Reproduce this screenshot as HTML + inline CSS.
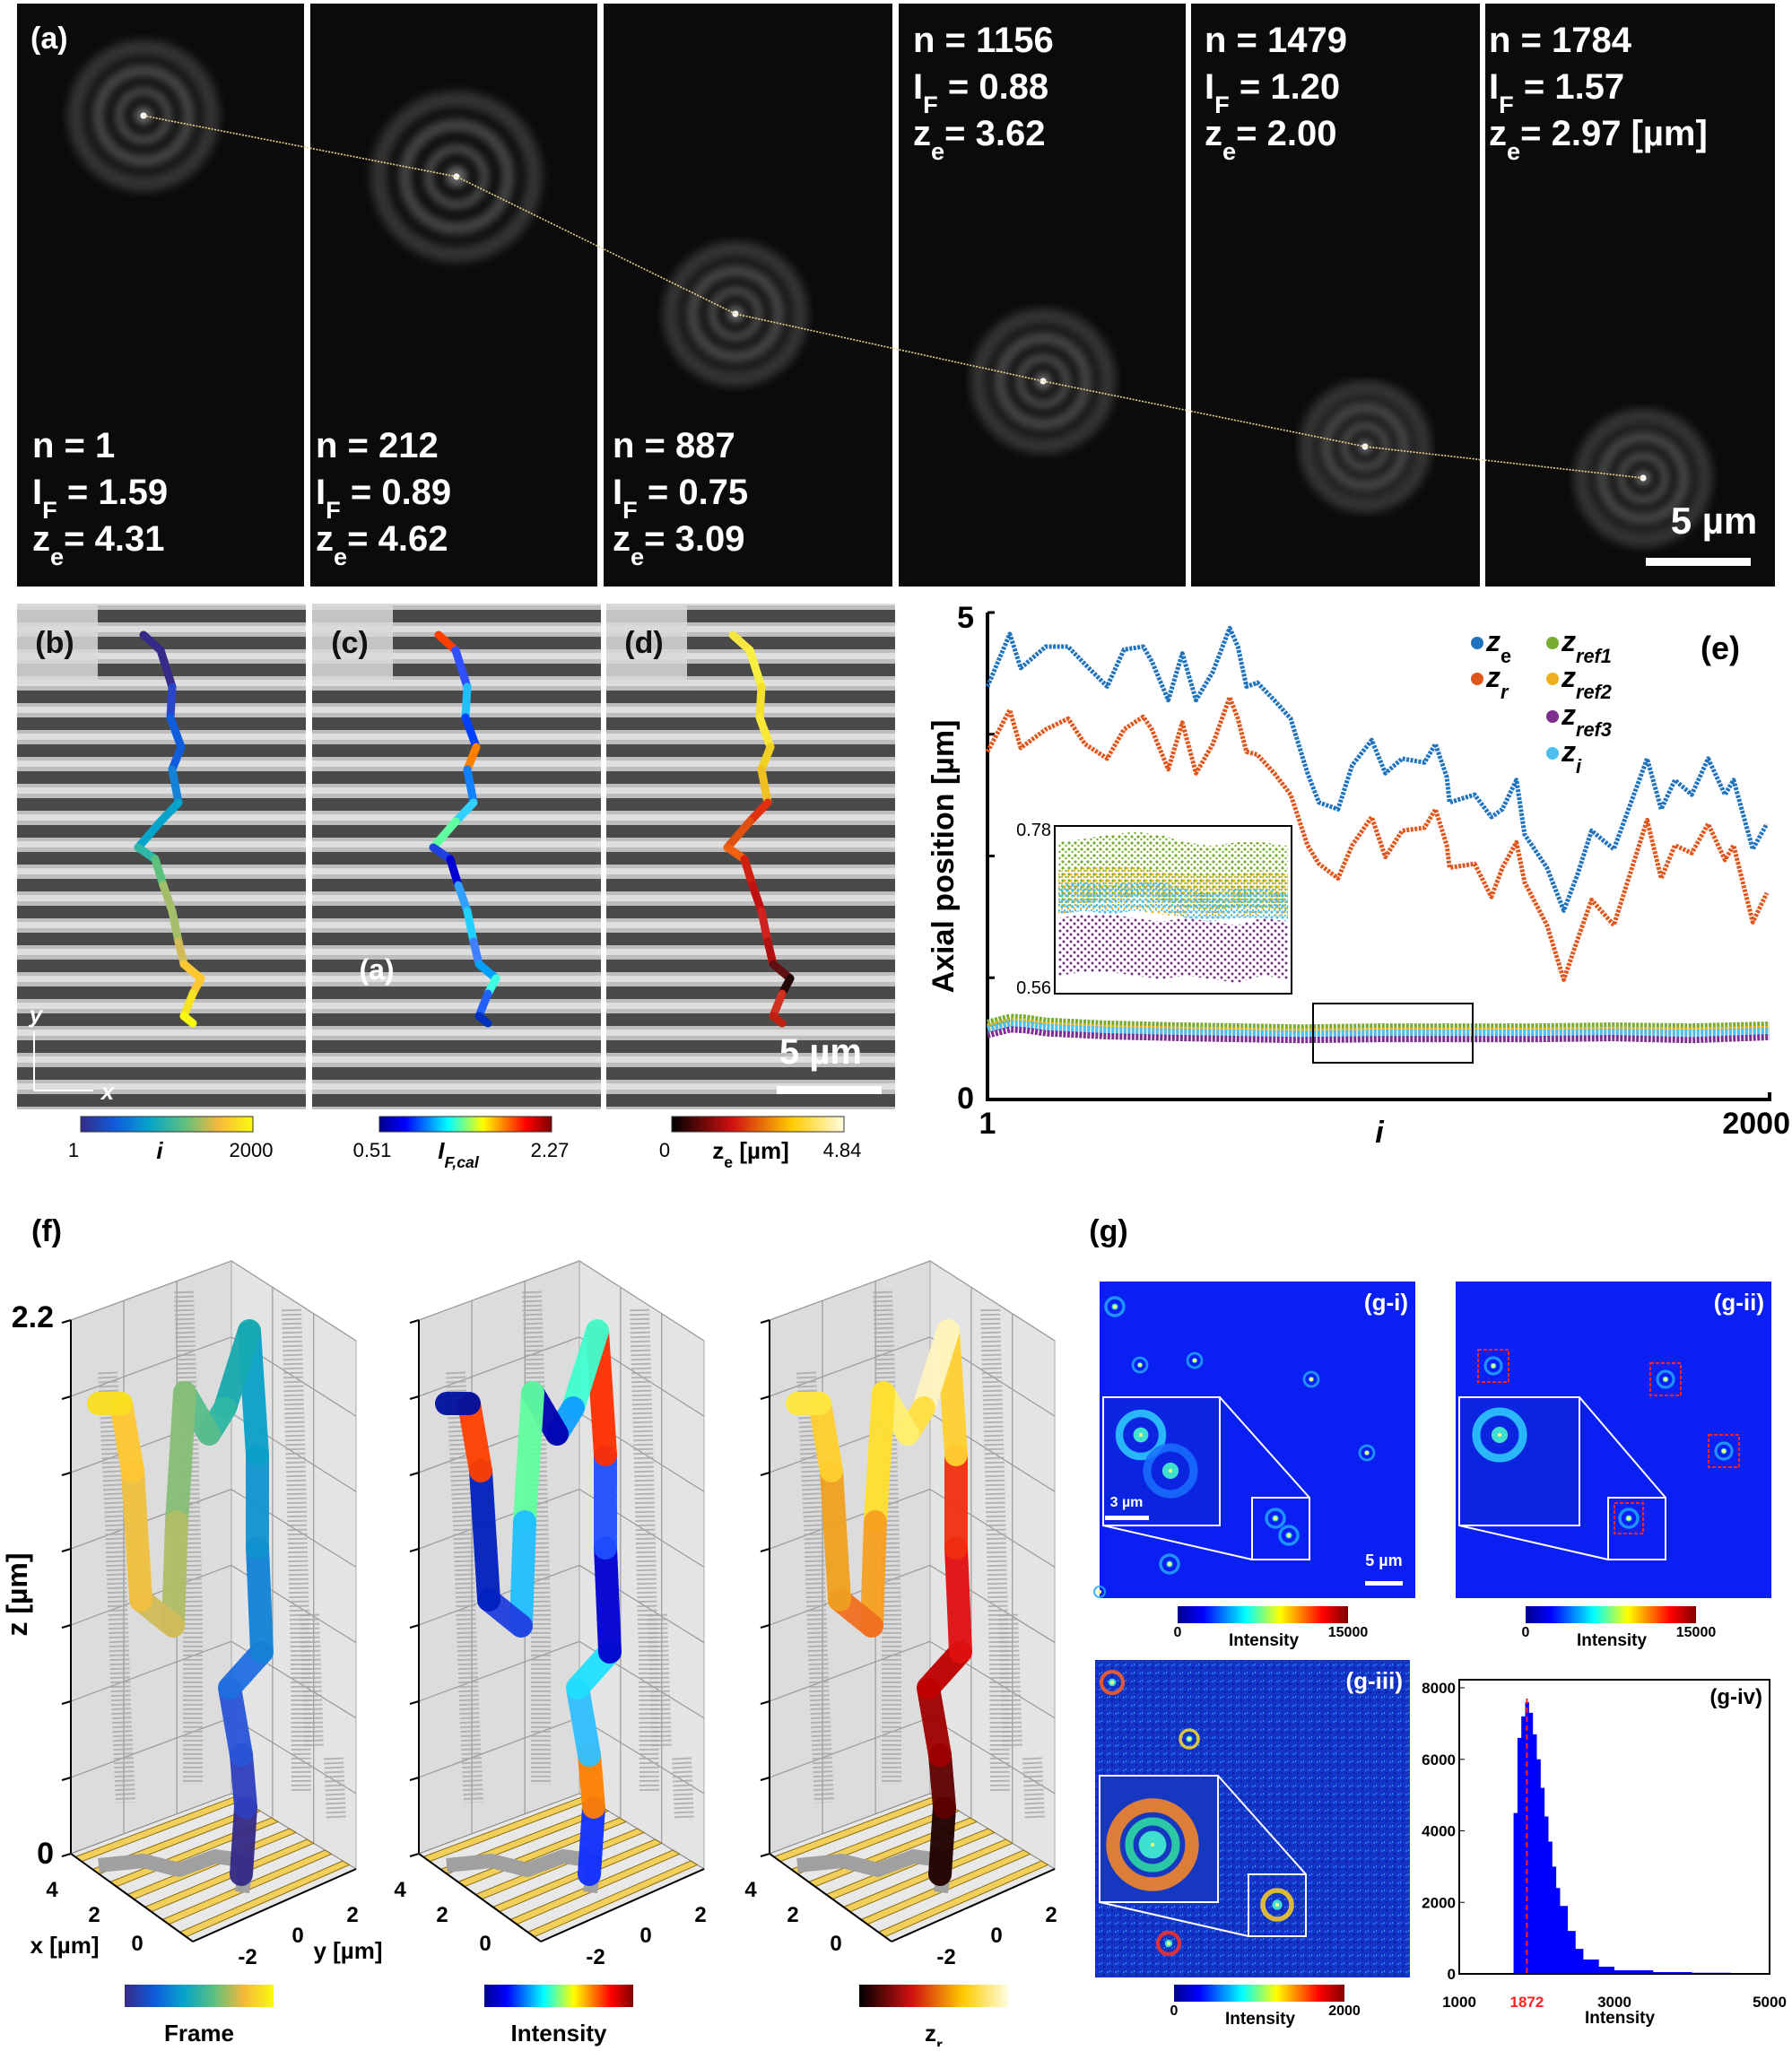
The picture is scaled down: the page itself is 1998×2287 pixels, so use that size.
<!DOCTYPE html>
<html><head><meta charset="utf-8"><style>
html,body{margin:0;padding:0;background:#fff}
svg text{font-family:"Liberation Sans",Arial,sans-serif}
</style></head><body>
<svg id="fig" xmlns="http://www.w3.org/2000/svg" width="1998" height="2282" viewBox="0 0 1998 2282">
<defs>
<filter id="blur3"><feGaussianBlur stdDeviation="5"/></filter>
<filter id="blur1"><feGaussianBlur stdDeviation="1.2"/></filter>
<pattern id="stripes" width="10" height="30" patternUnits="userSpaceOnUse">
<rect width="10" height="30" fill="#4a4a4a"/><rect y="4" width="10" height="16" fill="#bdbdbd"/><rect y="8" width="10" height="7" fill="#dedede"/>
</pattern>
<pattern id="dg" width="7" height="7" patternUnits="userSpaceOnUse"><circle cx="2" cy="2" r="1.6" fill="#77ac30"/><circle cx="5.5" cy="5" r="1.2" fill="#77ac30"/></pattern>
<pattern id="do" width="7" height="7" patternUnits="userSpaceOnUse"><circle cx="4" cy="2" r="1.5" fill="#edb120"/><circle cx="1" cy="5" r="1.2" fill="#edb120"/></pattern>
<pattern id="dc" width="6" height="6" patternUnits="userSpaceOnUse"><circle cx="2" cy="3" r="1.6" fill="#4dbeee"/><circle cx="5" cy="1" r="1.1" fill="#4dbeee"/></pattern>
<pattern id="dp" width="8" height="8" patternUnits="userSpaceOnUse"><circle cx="2" cy="2" r="1.5" fill="#7e2f8e"/><circle cx="6" cy="6" r="1.5" fill="#7e2f8e"/></pattern>
<pattern id="noise" width="9" height="9" patternUnits="userSpaceOnUse"><rect width="9" height="9" fill="#1434c8"/><rect x="1" y="2" width="2" height="2" fill="#2a6cf0"/><rect x="6" y="5" width="2" height="2" fill="#0a1e9a"/><rect x="4" y="1" width="1" height="2" fill="#2fa0e8"/></pattern>
<linearGradient id="parula" x1="0" x2="1"><stop offset="0" stop-color="#352a87"/><stop offset=".2" stop-color="#0f5cdd"/><stop offset=".4" stop-color="#06a4ca"/><stop offset=".6" stop-color="#5cc07f"/><stop offset=".8" stop-color="#f6b83a"/><stop offset="1" stop-color="#f9fb0e"/></linearGradient>
<linearGradient id="jet" x1="0" x2="1"><stop offset="0" stop-color="#00008f"/><stop offset=".15" stop-color="#0000ff"/><stop offset=".4" stop-color="#00ffff"/><stop offset=".6" stop-color="#ffff00"/><stop offset=".85" stop-color="#ff0000"/><stop offset="1" stop-color="#800000"/></linearGradient>
<linearGradient id="hot" x1="0" x2="1"><stop offset="0" stop-color="#000"/><stop offset=".35" stop-color="#d01010"/><stop offset=".7" stop-color="#ffcc00"/><stop offset="1" stop-color="#fffde0"/></linearGradient>
</defs>
<g id="panelA"></g>
<g id="panelBD"></g>
<g id="panelE"></g>
<g id="panelF"></g>
<g id="panelG"></g>
</svg>
<script>
// ---- Panel (e) data ----
const frameIdx = [1,58,86,150,207,250,307,350,399,421,463,499,534,577,620,641,663,691,734,776,819,848,897,933,983,1018,1061,1118,1146,1175,1182,1246,1289,1317,1353,1374,1431,1474,1509,1545,1602,1687,1723,1758,1801,1843,1886,1908,1957,1993];
const zeVals = [4.24,4.78,4.43,4.65,4.65,4.47,4.24,4.62,4.65,4.50,4.10,4.58,4.10,4.39,4.84,4.65,4.24,4.28,4.10,3.91,3.35,3.05,2.98,3.43,3.69,3.35,3.50,3.46,3.65,3.31,3.05,3.13,2.90,2.98,3.28,2.72,2.38,1.94,2.31,2.76,2.57,3.50,2.98,3.28,3.13,3.50,3.13,3.28,2.57,2.83];
const zrVals = [3.57,4.00,3.61,3.80,3.91,3.65,3.50,3.80,3.93,3.80,3.39,3.87,3.35,3.65,4.13,3.91,3.57,3.54,3.35,3.13,2.61,2.42,2.27,2.61,2.90,2.49,2.76,2.79,2.98,2.61,2.38,2.42,2.08,2.38,2.64,2.23,1.79,1.23,1.64,2.05,1.79,2.87,2.27,2.61,2.53,2.83,2.46,2.61,1.82,2.12];
const refIdx = [1,60,100,150,300,500,800,1000,1200,1400,1600,1800,2000];
const zref1Vals = [0.78,0.84,0.83,0.80,0.77,0.75,0.73,0.74,0.74,0.74,0.75,0.74,0.76];
const zref2Vals = [0.74,0.80,0.79,0.76,0.73,0.71,0.69,0.70,0.70,0.70,0.71,0.70,0.72];
const ziVals   = [0.72,0.78,0.77,0.74,0.71,0.69,0.67,0.68,0.68,0.68,0.69,0.68,0.70];
const zref3Vals = [0.66,0.72,0.71,0.68,0.65,0.63,0.61,0.62,0.62,0.62,0.63,0.61,0.64];
const insetIdx = [0,1,2,3,4,5,6,7,8,9];
const insetRef1 = [0.72,0.725,0.73,0.735,0.73,0.72,0.715,0.72,0.72,0.715];
const insetRef2 = [0.695,0.70,0.70,0.70,0.695,0.69,0.69,0.69,0.695,0.69];
const insetZi = [0.685,0.69,0.685,0.69,0.69,0.68,0.675,0.68,0.68,0.675];
const insetRef3 = [0.62,0.625,0.625,0.62,0.615,0.62,0.615,0.61,0.62,0.615];
// ---- Panel (g-iv) histogram data ----
const histBins = [1650,1700,1750,1800,1850,1900,1950,2000,2050,2100,2150,2200,2250,2300,2400,2500,2600,2800,3000,3500,4000,4500];
const histCounts = [0,4500,6600,7200,7600,7300,6700,6000,5200,4400,3700,3000,2400,1900,1200,700,400,200,100,50,30,20];
const histXTicks = [1000,3000,5000];
const histYTicks = [0,2000,4000,6000,8000];

const NS="http://www.w3.org/2000/svg";
function mk(parent,tag,attrs,txt){const e=document.createElementNS(NS,tag);for(const k in attrs)e.setAttribute(k,attrs[k]);if(txt!==undefined)e.textContent=txt;parent.appendChild(e);return e;}
function txt(parent,x,y,parts,size,weight,anchor,fill){
  const t=mk(parent,'text',{x:x,y:y,'font-size':size,'font-weight':weight||'bold','text-anchor':anchor||'start',fill:fill||'#000'});
  parts.forEach(p=>{ if(typeof p==='string'){mk(t,'tspan',{},p);} else {const s=mk(t,'tspan',{'baseline-shift':p.sup?'super':'sub','font-size':size*0.68,'font-style':p.it?'italic':'normal'},p.t);} });
  return t;
}

// ================= Panel A =================
const A=document.getElementById('panelA');
const aPanels=[[19,339],[346,666],[673,995],[1002,1322],[1328,1650],[1656,1979]];
const psf=[[160,129],[509,197],[820,350],[1163,425],[1522,498],[1832,533]];
const psfScale=[1.05,1.2,1.0,1.0,0.9,0.95];
mk(A,'rect',{x:0,y:0,width:1998,height:658,fill:'#fff'});
aPanels.forEach((p,i)=>{
  const r=mk(A,'rect',{x:p[0],y:4,width:p[1]-p[0],height:650,fill:'#0b0b0b'});
  
  
});
psf.forEach((c,i)=>{
  const g=mk(A,'g',{filter:'url(#blur3)'});
  
  
  const s=psfScale[i];
  mk(g,'circle',{cx:c[0],cy:c[1],r:72*s,fill:'none',stroke:'#666',"stroke-width":18,opacity:.45});
  mk(g,'circle',{cx:c[0],cy:c[1],r:48*s,fill:'none',stroke:'#777',"stroke-width":14,opacity:.55});
  mk(g,'circle',{cx:c[0],cy:c[1],r:26*s,fill:'none',stroke:'#888',"stroke-width":10,opacity:.55});
  mk(g,'circle',{cx:c[0],cy:c[1],r:10*s,fill:'#aaa',opacity:.6});
  mk(A,'circle',{cx:c[0],cy:c[1],r:3.5,fill:'#fff'});
});
const traj=mk(A,'polyline',{points:psf.map(p=>p.join(',')).join(' '),fill:'none',stroke:'#e8d28a',"stroke-width":1.6,"stroke-dasharray":"2 1.5"});


const lowTxt=[["1","1.59","4.31"],["212","0.89","4.62"],["887","0.75","3.09"]];
const upTxt=[["1156","0.88","3.62"],["1479","1.20","2.00"],["1784","1.57","2.97 [µm]"]];
const tX=[36,352,683,1018,1343,1660];
lowTxt.forEach((v,i)=>{
  const g=mk(A,'g',{});
  
  
  txt(g,tX[i],510,['n = '+v[0]],40,'bold','start','#fff');
  txt(g,tX[i],562,['I',{t:'F'},' = '+v[1]],40,'bold','start','#fff');
  txt(g,tX[i],614,['z',{t:'e'},'= '+v[2]],40,'bold','start','#fff');
});
upTxt.forEach((v,i)=>{
  const g=mk(A,'g',{});
  
  
  txt(g,tX[i+3],58,['n = '+v[0]],40,'bold','start','#fff');
  txt(g,tX[i+3],110,['I',{t:'F'},' = '+v[1]],40,'bold','start','#fff');
  txt(g,tX[i+3],162,['z',{t:'e'},'= '+v[2]],40,'bold','start','#fff');
});
const la=txt(A,34,54,['(a)'],34,'bold','start','#fff');

const sbt=txt(A,1911,595,['5 µm'],42,'bold','middle','#fff');

const sb=mk(A,'rect',{x:1835,y:622,width:117,height:9,fill:'#fff'});


// ================= Panels B-D =================
const B=document.getElementById('panelBD');
const bdX=[19,348,676];
const trk=[[160,708],[179,725],[192,766],[190,800],[202,833],[192,858],[199,895],[179,916],[154,945],[173,958],[182,987],[192,1016],[199,1050],[205,1075],[224,1091],[215,1108],[205,1133],[215,1141]];
const parulaC=['#352a87','#2a45c8','#0f5cdd','#1481d6','#06a4ca','#2eb7a4','#5cc07f','#a5be6a','#d1bb59','#fec832','#f6e424','#f9fb0e'];
const jetSeq=['#ff4000','#3050ff','#20c0ff','#0040ff','#ff8000','#1080ff','#30d0ff','#60ffa0','#2040e0','#0000d0','#30a0ff','#20d0ff','#4080ff','#00a0ff','#40ffe0','#2060ff','#0030c0','#1040d0'];
const hotSeq=['#f7e640','#f8f040','#f5e030','#fae838','#f0d020','#f0c020','#e03010','#e05010','#f06010','#d02010','#c01010','#d02020','#b01010','#601010','#200808','#d03020','#c02010','#e04020'];
const names=['b','c','d'];
bdX.forEach((x0,pi)=>{
  const g=mk(B,'g',{});
  
  
  mk(g,'rect',{x:x0,y:673,width:322,height:564,fill:'url(#stripes)'});
  mk(g,'rect',{x:x0,y:673,width:90,height:89,fill:'#d9d9d9',opacity:.85});
  txt(g,x0+42,728,['('+names[pi]+')'],34,'bold','middle','#111');
  const off=x0-19;
  for(let k=0;k<trk.length-1;k++){
    let col;
    if(pi===0) col=parulaC[Math.floor(k*parulaC.length/(trk.length-1))];
    else if(pi===1) col=jetSeq[k]; else col=hotSeq[k];
    const l=mk(g,'line',{x1:trk[k][0]+off,y1:trk[k][1],x2:trk[k+1][0]+off,y2:trk[k+1][1],stroke:col,"stroke-width":9,"stroke-linecap":"round"});
    
    
  }
});
mk(B,'line',{x1:38,y1:1216,x2:38,y2:1150,stroke:'#fff',"stroke-width":2});
mk(B,'line',{x1:38,y1:1216,x2:104,y2:1216,stroke:'#fff',"stroke-width":2});
txt(B,40,1140,['y'],26,'bold','middle','#fff').setAttribute('font-style','italic');
txt(B,120,1226,['x'],26,'bold','middle','#fff').setAttribute('font-style','italic');
txt(B,420,1092,['(a)'],32,'bold','middle','#fff');
txt(B,915,1186,['5 µm'],40,'bold','middle','#fff');
mk(B,'rect',{x:866,y:1211,width:117,height:9,fill:'#fff'});
const cbs=[[90,'parula','1','2000',['i'],'colorbar-frame'],[423,'jet','0.51','2.27',['I',{t:'F,cal',it:true}],'colorbar-intensity-ratio'],[749,'hot','0','4.84',['z',{t:'e'},' [µm]'],'colorbar-ze']];
cbs.forEach(c=>{
  const g=mk(B,'g',{});
  
  
  mk(g,'rect',{x:c[0],y:1245,width:192,height:17,fill:'url(#'+c[1]+')',stroke:'#333',"stroke-width":1});
  txt(g,c[0]-8,1290,[c[2]],22,'normal','middle');
  txt(g,c[0]+190,1290,[c[3]],22,'normal','middle');
  const t=txt(g,c[0]+88,1292,c[4],26,'bold','middle');
  if(c[1]!=='hot') t.setAttribute('font-style','italic');
});

// ================= Panel E =================
const E=document.getElementById('panelE');
const ex0=1101,ex1=1973,ey0=683,ey1=1226;
const xS=i=>ex0+(i-1)/1999*(ex1-ex0);
const yS=v=>ey1-v/5*(ey1-ey0);
const axes=mk(E,'path',{d:`M${ex0},${ey0} V${ey1} H${ex1} V${ey1-8}`,fill:'none',stroke:'#000',"stroke-width":4});

[0,1.25,2.5,3.75,5].forEach(v=>{mk(E,'line',{x1:ex0,y1:yS(v),x2:ex0+8,y2:yS(v),stroke:'#000',"stroke-width":3});});
txt(E,1086,700,['5'],34,'bold','end');
txt(E,1086,1236,['0'],34,'bold','end');
txt(E,1101,1264,['1'],34,'bold','middle');
txt(E,1996,1264,['2000'],34,'bold','end');
txt(E,1538,1274,['i'],34,'bold','middle').setAttribute('font-style','italic');
const yl=txt(E,0,0,['Axial position [µm]'],34,'bold','middle');
yl.setAttribute('transform','translate(1063,955) rotate(-90)');

function series(vals,idx,col,w,name){
  const pl=mk(E,'polyline',{points:idx.map((i,k)=>xS(i)+','+yS(vals[k])).join(' '),fill:'none',stroke:col,"stroke-width":w,"stroke-dasharray":"3 1.5","stroke-linejoin":"round"});
  
  
}
series(zeVals,frameIdx,'#1f72be',5,'series-ze');
series(zrVals,frameIdx,'#e0561b',5,'series-zr');
series(zref1Vals,refIdx,'#77ac30',9,'series-zref1');
series(zref2Vals,refIdx,'#edb120',8,'series-zref2');
series(ziVals,refIdx,'#4dbeee',8,'series-zi');
series(zref3Vals,refIdx,'#7e2f8e',7,'series-zref3');
const zb=mk(E,'rect',{x:1464,y:1119,width:178,height:66,fill:'none',stroke:'#000',"stroke-width":2});

const ix0=1176,ix1=1440,iy0=921,iy1=1108;
const ixS=k=>ix0+4+k/9*(ix1-ix0-8);
const iyS=v=>927+(0.78-v)/0.22*177;
const ins=mk(E,'g',{});

mk(ins,'rect',{x:ix0,y:iy0,width:ix1-ix0,height:iy1-iy0,fill:'#fff',stroke:'#000',"stroke-width":2});
function band(vals,half,fill,name){
  const top=insetIdx.map((k,j)=>ixS(k)+','+iyS(vals[j]+half));
  const bot=insetIdx.map((k,j)=>ixS(k)+','+iyS(vals[j]-half)).reverse();
  const p=mk(ins,'polygon',{points:top.concat(bot).join(' '),fill:fill});
  
  
}
band(insetRef3,0.04,'url(#dp)','inset-zref3');
band(insetRef1,0.045,'url(#dg)','inset-zref1');
band(insetRef2,0.03,'url(#do)','inset-zref2');
band(insetZi,0.02,'url(#dc)','inset-zi');
txt(ins,1172,932,['0.78'],20,'normal','end');
txt(ins,1172,1108,['0.56'],20,'normal','end');
const leg=[[1647,726,'#1f72be','z',{t:'e'}],[1647,766,'#e0561b','z',{t:'r',it:true}],[1731,726,'#77ac30','z',{t:'ref1',it:true}],[1731,766,'#edb120','z',{t:'ref2',it:true}],[1731,808,'#7e2f8e','z',{t:'ref3',it:true}],[1731,849,'#4dbeee','z',{t:'i',it:true}]];
leg.forEach(l=>{
  const g=mk(E,'g',{});
  
  
  mk(g,'circle',{cx:l[0],cy:l[1]-9,r:7,fill:l[2]});
  const t=txt(g,l[0]+10,l[1],[l[3],l[4]],32,'bold','start');
  t.setAttribute('font-style','italic');
});
txt(E,1918,735,['(e)'],36,'bold','middle');

// ================= Panel F =================
const F=document.getElementById('panelF');
txt(F,52,1384,['(f)'],34,'bold','middle');
const yz=txt(F,0,0,['z [µm]'],32,'bold','middle');
yz.setAttribute('transform','translate(30,1778) rotate(-90)');

txt(F,60,1480,['2.2'],34,'bold','end');
txt(F,60,2078,['0'],34,'bold','end');
const L=[79,2067],Bk=[258,2000],R=[397,2084],Fr=[215,2165];
const TL=[79,1472],TB=[258,1406],TR=[397,1495];
const trk3=[[269,2090],[274,2015],[269,1957],[256,1882],[292,1842],[287,1726],[287,1622],[278,1484],[251,1570],[233,1599],[206,1553],[197,1697],[193,1813],[157,1784],[148,1640],[135,1565],[108,1565]];
const grayStreaks=[[[120,1530],[128,1700],[135,1900],[140,2010]],[[205,1440],[210,1600],[215,1800],[215,1990]],[[325,1460],[330,1640],[335,1850],[336,2000]],[[345,1800],[350,1950]],[[372,1960],[375,2030]]];
const parulaT=['#352a87','#2f3fbf','#2a55d8','#1f6fe0','#1481d6','#1193cf','#0aa0c8','#18aab0','#2eb7a4','#58bd8a','#87bf77','#b0bd66','#d1bb59','#f0c040','#fec832','#f9e020'];
const jetT=['#1030ff','#ff8000','#30c0ff','#20e0ff','#0000d0','#2050ff','#ff3000','#40ffd0','#10a0ff','#0000b0','#60ffa0','#20c0ff','#2040e0','#0020c0','#ff4000','#0010a0'];
const hotT=['#200000','#600000','#a00000','#c00000','#e01010','#f03010','#ffd030','#fff5c0','#ffe040','#fff070','#ffe030','#f8a020','#f07020','#f0a020','#ffd030','#ffe840'];
const boxOff=[0,388,779];
const boxCols=[parulaT,jetT,hotT];
const boxNames=['frame','intensity','zr'];
boxOff.forEach((o,bi)=>{
  const g=mk(F,'g',{transform:`translate(${o},0)`});
  
  
  const P=a=>a.join(',');
  mk(g,'polygon',{points:[TL,TB,Bk,L].map(P).join(' '),fill:'#dcdcdc',stroke:'#aaa'});
  mk(g,'polygon',{points:[TB,TR,R,Bk].map(P).join(' '),fill:'#e4e4e4',stroke:'#aaa'});
  for(let k=0;k<8;k++){
    const d=k*(2067-1472)/7;
    mk(g,'line',{x1:TL[0],y1:TL[1]+d,x2:TB[0],y2:TB[1]+d*(2000-1406)/(2067-1472),stroke:'#999',"stroke-width":1.2});
    mk(g,'line',{x1:TB[0],y1:TB[1]+d*(2000-1406)/(2067-1472),x2:TR[0],y2:TR[1]+d*(2084-1495)/(2067-1472),stroke:'#999',"stroke-width":1.2});
    mk(g,'line',{x1:TL[0]-10,y1:TL[1]+d+3,x2:TL[0],y2:TL[1]+d,stroke:'#000',"stroke-width":2});
  }
  [0.33,0.66].forEach(f=>{
    mk(g,'line',{x1:TL[0]+f*(TB[0]-TL[0]),y1:TL[1]+f*(TB[1]-TL[1]),x2:L[0]+f*(Bk[0]-L[0]),y2:L[1]+f*(Bk[1]-L[1]),stroke:'#999',"stroke-width":1.2});
    mk(g,'line',{x1:TB[0]+f*(TR[0]-TB[0]),y1:TB[1]+f*(TR[1]-TB[1]),x2:Bk[0]+f*(R[0]-Bk[0]),y2:Bk[1]+f*(R[1]-Bk[1]),stroke:'#999',"stroke-width":1.2});
  });
  mk(g,'line',{x1:TL[0],y1:TL[1],x2:L[0],y2:L[1],stroke:'#000',"stroke-width":2});
  grayStreaks.forEach(s=>{mk(g,'polyline',{points:s.map(P).join(' '),fill:'none',stroke:'#a8a8a8',"stroke-width":22,"stroke-dasharray":"2 3",opacity:.8});});
  mk(g,'polygon',{points:[L,Bk,R,Fr].map(P).join(' '),fill:'#e8e8e8',stroke:'#888'});
  for(let k=0;k<7;k++){
    const t0=(k+0.25)/7,t1=(k+0.62)/7;
    const a0=[L[0]+t0*(Fr[0]-L[0]),L[1]+t0*(Fr[1]-L[1])],a1=[L[0]+t1*(Fr[0]-L[0]),L[1]+t1*(Fr[1]-L[1])];
    const b0=[Bk[0]+t0*(R[0]-Bk[0]),Bk[1]+t0*(R[1]-Bk[1])],b1=[Bk[0]+t1*(R[0]-Bk[0]),Bk[1]+t1*(R[1]-Bk[1])];
    mk(g,'polygon',{points:[a0,b0,b1,a1].map(P).join(' '),fill:'#f2cf5a',stroke:'#8a6d10',"stroke-width":1});
  }
  mk(g,'polyline',{points:'110,2080 160,2075 200,2085 240,2070 275,2075 270,2110',fill:'none',stroke:'#a0a0a0',"stroke-width":16,"stroke-linejoin":"round"});
  const cols=boxCols[bi];
  for(let k=0;k<trk3.length-1;k++){
    const l=mk(g,'line',{x1:trk3[k][0],y1:trk3[k][1],x2:trk3[k+1][0],y2:trk3[k+1][1],stroke:cols[k],"stroke-width":26,"stroke-dasharray":"4 3","stroke-linecap":"round",opacity:.95});
    
    
  }
  txt(g,58,2115,['4'],24,'bold','middle');
  txt(g,105,2143,['2'],24,'bold','middle');
  txt(g,153,2175,['0'],24,'bold','middle');
  txt(g,276,2190,['-2'],24,'bold','middle');
  txt(g,332,2166,['0'],24,'bold','middle');
  txt(g,393,2143,['2'],24,'bold','middle');
  mk(g,'line',{x1:L[0],y1:L[1],x2:Fr[0],y2:Fr[1],stroke:'#000',"stroke-width":2});
  mk(g,'line',{x1:Fr[0],y1:Fr[1],x2:R[0],y2:R[1],stroke:'#000',"stroke-width":2});
});
txt(F,72,2178,['x [µm]'],26,'bold','middle');
txt(F,388,2184,['y [µm]'],26,'bold','middle');
[[139,'parula',['Frame'],'colorbar-frame-3d'],[540,'jet',['Intensity'],'colorbar-intensity-3d'],[958,'hot',['z',{t:'r'}],'colorbar-zr-3d']].forEach(c=>{
  const g=mk(F,'g',{});
  
  
  mk(g,'rect',{x:c[0],y:2213,width:166,height:25,fill:'url(#'+c[1]+')'});
  txt(g,c[0]+83,2276,c[2],26,'bold','middle');
});

// ================= Panel G =================
const G=document.getElementById('panelG');
txt(G,1236,1384,['(g)'],34,'bold','middle');
function ring(p,x,y,r,col){
  const g=mk(p,'g',{});
  mk(g,'circle',{cx:x,cy:y,r:r,fill:'none',stroke:col||'#22a8ff',"stroke-width":r*0.35,opacity:.85});
  mk(g,'circle',{cx:x,cy:y,r:r*0.35,fill:'#40e0d0'});
  mk(g,'circle',{cx:x,cy:y,r:2,fill:'#ffff80'});
  return g;
}
function subpanel(x,y,w,h,fill,label,name){
  const g=mk(G,'g',{});
  
  
  mk(g,'rect',{x:x,y:y,width:w,height:h,fill:fill});
  txt(g,x+w-8,y+32,[label],26,'bold','end','#fff');
  return g;
}
const gi=subpanel(1226,1429,352,353,'#0a1ff2','(g-i)','image-g-i');
[[1243,1457,10],[1271,1522,8],[1332,1517,8],[1462,1538,8],[1524,1620,8],[1304,1744,10],[1226,1775,6]].forEach(r=>ring(gi,r[0],r[1],r[2]));
mk(gi,'rect',{x:1230,y:1558,width:130,height:143,fill:'#0a24e0',stroke:'#fff',"stroke-width":2});
ring(gi,1272,1600,24,'#2fd0ff');ring(gi,1305,1640,26,'#1a70ff');
mk(gi,'rect',{x:1396,y:1670,width:64,height:69,fill:'none',stroke:'#fff',"stroke-width":2});
ring(gi,1422,1693,10);ring(gi,1437,1712,10);
mk(gi,'line',{x1:1360,y1:1558,x2:1460,y2:1670,stroke:'#fff',"stroke-width":2});
mk(gi,'line',{x1:1230,y1:1701,x2:1396,y2:1739,stroke:'#fff',"stroke-width":2});
txt(gi,1256,1680,['3 µm'],16,'bold','middle','#fff');
mk(gi,'rect',{x:1232,y:1690,width:49,height:5,fill:'#fff'});
txt(gi,1543,1746,['5 µm'],18,'bold','middle','#fff');
mk(gi,'rect',{x:1522,y:1763,width:42,height:5,fill:'#fff'});

const gii=subpanel(1623,1429,352,353,'#0a1ff2','(g-ii)','image-g-ii');
[[1665,1523],[1857,1538],[1922,1618]].forEach(r=>{ring(gii,r[0],r[1],9);mk(gii,'rect',{x:r[0]-17,y:r[1]-18,width:34,height:36,fill:'none',stroke:'#ff2020',"stroke-width":2,"stroke-dasharray":"4 2"});});
mk(gii,'rect',{x:1627,y:1558,width:134,height:143,fill:'#0a24e0',stroke:'#fff',"stroke-width":2});
ring(gii,1672,1600,26,'#2fd0ff');
mk(gii,'rect',{x:1793,y:1670,width:64,height:69,fill:'none',stroke:'#fff',"stroke-width":2});
ring(gii,1816,1693,10);
mk(gii,'rect',{x:1800,y:1676,width:32,height:34,fill:'none',stroke:'#ff2020',"stroke-width":2,"stroke-dasharray":"4 2"});
mk(gii,'line',{x1:1761,y1:1558,x2:1857,y2:1670,stroke:'#fff',"stroke-width":2});
mk(gii,'line',{x1:1627,y1:1701,x2:1793,y2:1739,stroke:'#fff',"stroke-width":2});

const giii=subpanel(1221,1851,351,354,'url(#noise)','(g-iii)','image-g-iii');
[[1240,1876,12,'#ff6020'],[1326,1939,10,'#ffe020'],[1303,2167,12,'#ff3020']].forEach(r=>ring(giii,r[0],r[1],r[2],r[3]));
mk(giii,'rect',{x:1226,y:1980,width:132,height:141,fill:'#1638c0',stroke:'#fff',"stroke-width":2});
ring(giii,1285,2057,44,'#ff8a20');ring(giii,1285,2057,26,'#30e0a0');
mk(giii,'rect',{x:1392,y:2090,width:64,height:69,fill:'none',stroke:'#fff',"stroke-width":2});
ring(giii,1424,2124,16,'#ffd020');
mk(giii,'line',{x1:1358,y1:1980,x2:1456,y2:2090,stroke:'#fff',"stroke-width":2});
mk(giii,'line',{x1:1226,y1:2121,x2:1392,y2:2159,stroke:'#fff',"stroke-width":2});

[[1313,1791,'15000','colorbar-g-i'],[1701,1791,'15000','colorbar-g-ii'],[1309,2213,'2000','colorbar-g-iii']].forEach(c=>{
  const g=mk(G,'g',{});
  
  
  mk(g,'rect',{x:c[0],y:c[1],width:190,height:19,fill:'url(#jet)'});
  txt(g,c[0],c[1]+34,['0'],16,'bold','middle');
  txt(g,c[0]+96,c[1]+44,['Intensity'],19,'bold','middle');
  txt(g,c[0]+190,c[1]+34,[c[2]],16,'bold','middle');
});
const H=mk(G,'g',{});

const hx0=1627,hx1=1973,hy0=1873,hy1=2201;
const hxS=v=>hx0+(v-1000)/4000*(hx1-hx0);
const hyS=v=>hy1-v/8000*(hy1-1882);
const areaPts=[[hxS(histBins[0]),hy1]];
histBins.forEach((b,k)=>{const nb=k<histBins.length-1?histBins[k+1]:b+50;areaPts.push([hxS(b),hyS(histCounts[k])]);areaPts.push([hxS(nb),hyS(histCounts[k])]);});
areaPts.push([hxS(5000),hyS(10)],[hxS(5000),hy1]);
const hp=mk(H,'polygon',{points:areaPts.map(p=>p.join(',')).join(' '),fill:'#0000ff'});

mk(H,'line',{x1:hxS(1872),y1:hyS(7700),x2:hxS(1872),y2:hy1,stroke:'#ff2020',"stroke-width":2,"stroke-dasharray":"6 4"});
mk(H,'rect',{x:hx0,y:hy0,width:hx1-hx0,height:hy1-hy0,fill:'none',stroke:'#000',"stroke-width":2});
histYTicks.forEach(v=>{mk(H,'line',{x1:hx0,y1:hyS(v),x2:hx0+6,y2:hyS(v),stroke:'#000'});txt(H,hx0-4,hyS(v)+6,[String(v)],17,'bold','end');});
histXTicks.forEach(v=>{txt(H,hxS(v),2238,[String(v)],17,'bold','middle');});
txt(H,hxS(1872),2238,['1872'],17,'bold','middle','#ff2020');
txt(H,1806,2256,['Intensity'],19,'bold','middle');
txt(H,1965,1900,['(g-iv)'],24,'bold','end');
</script>
</body></html>
